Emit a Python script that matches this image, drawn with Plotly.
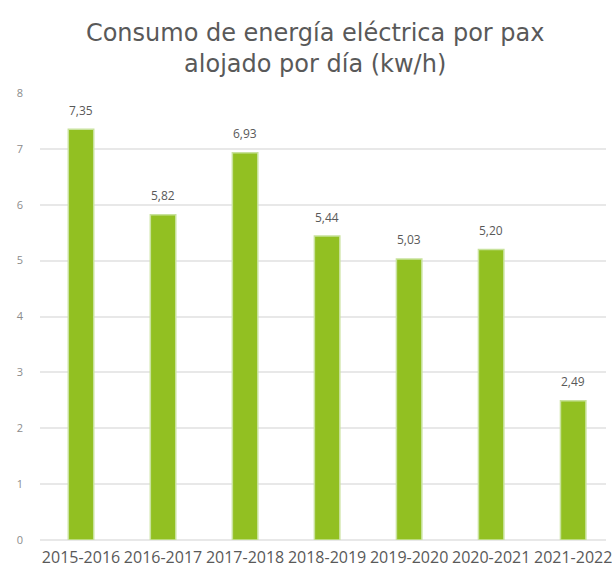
import plotly.graph_objects as go

# ─────────────────────────────────────────────────────────────
# Data
# ─────────────────────────────────────────────────────────────
PERIODS = ["2015-2016", "2016-2017", "2017-2018", "2018-2019",
           "2019-2020", "2020-2021", "2021-2022"]
CONSUMO = [7.35, 5.82, 6.93, 5.44, 5.03, 5.20, 2.49]
Y_TICKS = [0, 1, 2, 3, 4, 5, 6, 7, 8]

TITLE = "Consumo de energía eléctrica por pax<br>alojado por día (kw/h)"

# ─────────────────────────────────────────────────────────────
# Colours
# ─────────────────────────────────────────────────────────────
BAR_GREEN = "#92C022"
BAR_EDGE = "#C8E29C"
TEXT_GRAY = "#595959"
TICK_GRAY = "#8C8C8C"
GRID_GRAY = "#E8E8E8"
FONT = "Open Sans"

fig = go.Figure()

fig.add_trace(go.Bar(
    x=PERIODS,
    y=CONSUMO,
    width=0.31,
    marker=dict(color=BAR_GREEN, line=dict(color=BAR_EDGE, width=1.5)),
    hoverinfo="x+y",
    showlegend=False,
))

# value labels sitting a little above each bar
for p, v in zip(PERIODS, CONSUMO):
    fig.add_annotation(
        x=p, y=v, text=f"{v:.2f}".replace(".", ","),
        showarrow=False, yshift=19, yanchor="middle",
        font=dict(family=FONT, size=12, color=TEXT_GRAY),
    )

fig.update_layout(
    width=612,
    height=569,
    paper_bgcolor="#FFFFFF",
    plot_bgcolor="#FFFFFF",
    margin=dict(l=40, r=0, t=93, b=29),
    title=dict(
        text=TITLE, x=0.515, xanchor="center", y=0.928, yanchor="middle",
        font=dict(family="DejaVu Sans", size=24, color=TEXT_GRAY),
    ),
    xaxis=dict(
        range=[-0.5, 6.4],
        tickangle=0,
        tickfont=dict(family=FONT, size=16, color=TEXT_GRAY),
        showgrid=False,
        showline=False,
        ticklabelstandoff=6,
    ),
    yaxis=dict(
        range=[0, 8],
        tickvals=Y_TICKS,
        tickfont=dict(family=FONT, size=11, color=TICK_GRAY),
        gridcolor=GRID_GRAY,
        gridwidth=1.5,
        zeroline=True,
        zerolinecolor=GRID_GRAY,
        zerolinewidth=1.5,
        ticklabelstandoff=16,
    ),
)

# drop the browser's default body margin so the chart sits at 0,0
fig.write_html("out.html", config={"displayModeBar": False},
               post_script="document.body.style.margin='0';")
